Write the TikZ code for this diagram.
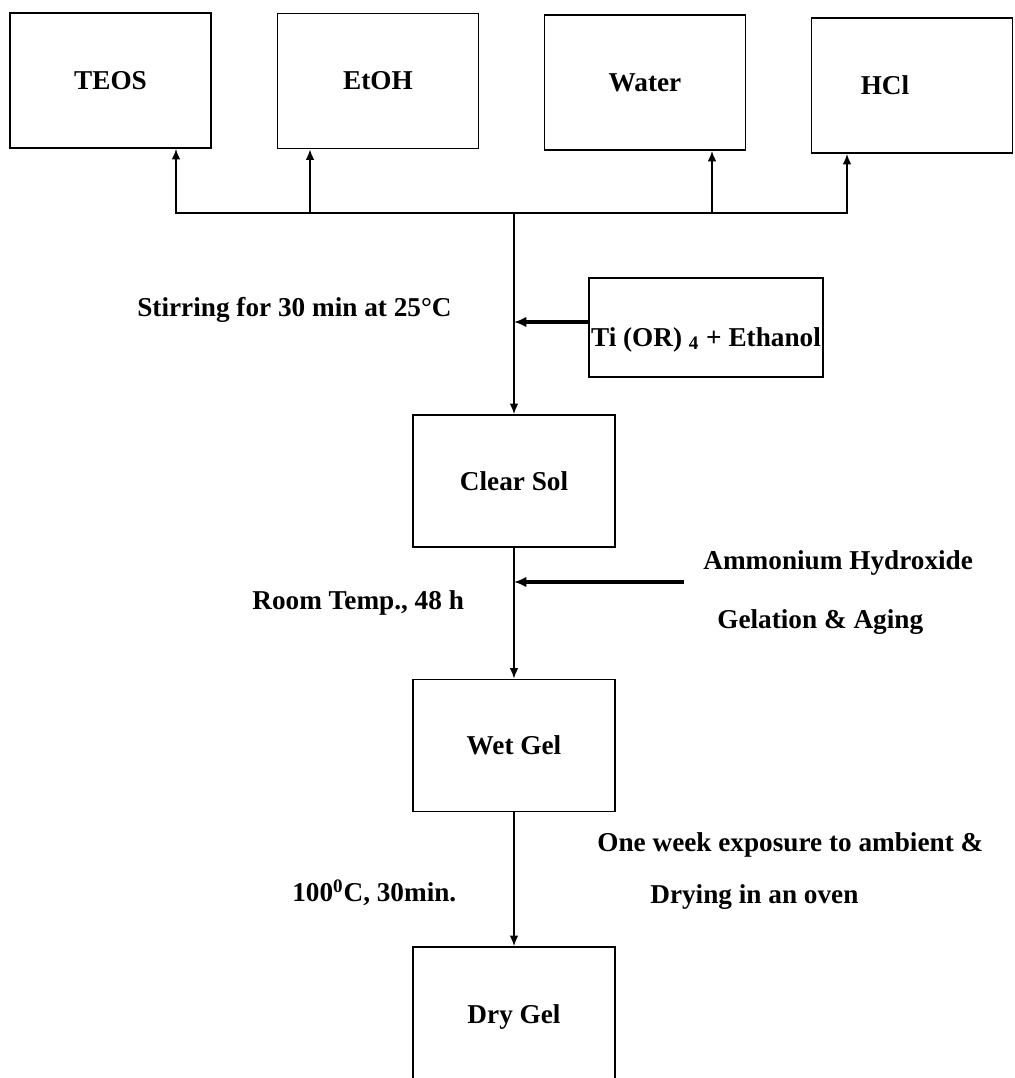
\documentclass[tikz,border=0pt]{standalone}
\usepackage{fontspec}
\setmainfont{Liberation Serif}
\usetikzlibrary{arrows.meta}

\begin{document}
\begin{tikzpicture}[x=0.02cm, y=-0.02cm, font=\bfseries\fontsize{15.5}{18}\selectfont,
    box/.style={draw, line width=1.1pt, minimum width=4.02cm, minimum height=2.7cm, inner sep=0pt},
    stage/.style={box, minimum width=4.04cm, minimum height=2.64cm},
    flow/.style={line width=0.9pt, -{Latex[length=6pt, width=5pt]}},
    feed/.style={line width=2pt, -{Latex[length=7pt, width=6pt]}},
    note/.style={anchor=west, inner sep=0pt}]

    % ==========================================
    % FRAME (pixel units, y pointing down)
    % ==========================================
    \useasboundingbox (0,0) rectangle (1014,1078);
    \clip (0,0) rectangle (1014,1078);

    % ==========================================
    % STARTING MATERIALS
    % ==========================================
    \node[box] (teos)  at (110.5,80.5) {TEOS};
    \node[box] (etoh)  at (378,81)     {EtOH};
    \node[box] (water) at (645,82.5)   {Water};
    \node[box, label={[xshift=-0.54cm]center:HCl}] (hcl) at (912,85.5) {};

    % Mixing line and the points where it meets each box
    \coordinate (hub)  at (514,213);
    \coordinate (tap1) at (176,213);
    \coordinate (tap2) at (310,213);
    \coordinate (tap3) at (712,213);
    \coordinate (tap4) at (847,213);

    \draw[flow] (hub) -| (teos.south -| tap1);
    \draw[flow] (hub) -| (etoh.south -| tap2);
    \draw[flow] (hub) -| (water.south -| tap3);
    \draw[flow] (hub) -| (hcl.south -| tap4);

    % ==========================================
    % SOL -> GEL -> DRY GEL
    % ==========================================
    \node[stage] (clear) at (514,481)    {Clear Sol};
    \node[stage] (wet)   at (514,745.5)  {Wet Gel};
    \node[stage, minimum height=2.8cm] (dry) at (514,1017) {Dry Gel};

    \draw[flow] (hub) -- (clear.north);
    \draw[flow] (clear) -- (wet);
    \draw[flow] (wet) -- (dry);

    % Titanium precursor added while stirring
    \node[box, minimum width=4.68cm, minimum height=1.98cm,
          label={[yshift=-0.24cm]center:Ti (OR) \textsubscript{4} + Ethanol}] (ti) at (706,327.5) {};
    \draw[feed] ([yshift=0.11cm]ti.west) -- ([yshift=0.11cm]ti.west -| hub);

    % Base added for gelation
    \coordinate (nh) at (684,582);
    \draw[feed] (nh) -- (nh -| hub);

    % ==========================================
    % PROCESS CONDITIONS
    % ==========================================
    \node[note] (stir)     at (137,310) {Stirring for 30 min at 25°C};
    \node[note] (roomtemp) at (252,603) {Room Temp., 48 h};
    \node[note] (ammonium) at (703,563) {Ammonium Hydroxide};
    \node[note] (gelation) at (717,622) {Gelation \& Aging};
    \node[note] (oneweek)  at (597,845) {One week exposure to ambient \&};
    \node[note] (heating)  at (292,893) {100\textsuperscript{0}C, 30min.};
    \node[note] (drying)   at (650,897) {Drying in an oven};

\end{tikzpicture}
\end{document}
